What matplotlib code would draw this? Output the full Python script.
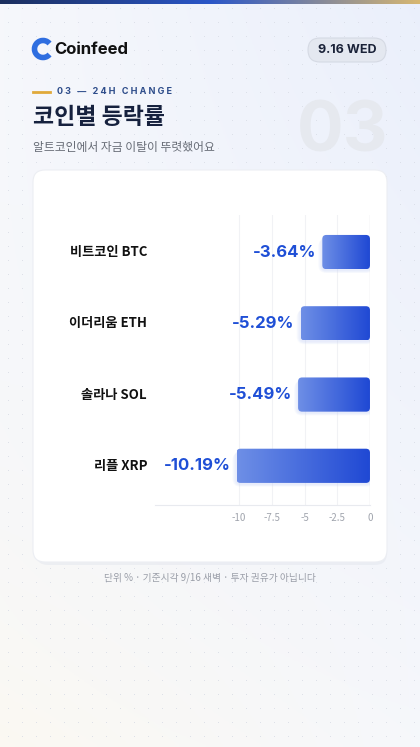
import numpy as np
import matplotlib
matplotlib.use("Agg")
import matplotlib.pyplot as plt
from matplotlib.patches import FancyBboxPatch, Arc
from matplotlib.colors import LinearSegmentedColormap

plt.rcParams['font.family'] = ['Noto Sans CJK KR', 'DejaVu Sans']

coins = ["비트코인 BTC", "이더리움 ETH", "솔라나 SOL", "리플 XRP"]
changes = [-3.64, -5.29, -5.49, -10.19]
ticks = [-10, -7.5, -5, -2.5, 0]
tick_labels = ["-10", "-7.5", "-5", "-2.5", "0"]

W, H = 420, 747
fig = plt.figure(figsize=(W/100, H/100), dpi=100)

def fx(px): return px / W
def fy(py): return 1 - py / H

bg = fig.add_axes([0, 0, 1, 1]); bg.set_axis_off()
bg.set_xlim(0, W); bg.set_ylim(H, 0)
g = np.linspace(0, 1, 200)
img = np.ones((200, 200, 3))
yy, xx = np.meshgrid(g, g, indexing='ij')
base = np.array([0.965, 0.97, 0.985])
img[:] = base
img += (xx * (1 - yy))[..., None] * (np.array([0.92, 0.94, 0.985]) - base)
img += (yy ** 3 * (1 - xx))[..., None] * (np.array([0.985, 0.975, 0.95]) - base)
bg.imshow(img, extent=[0, W, H, 0], aspect='auto', zorder=0)
dx, dy = np.meshgrid(np.arange(8, W, 14), np.arange(8, H, 14))
bg.scatter(dx.ravel(), dy.ravel(), s=0.4, c='#d9dde6', zorder=1, linewidths=0)
cm = LinearSegmentedColormap.from_list('t', ['#1c2f5e', '#2a56c8', '#d7b771'])
bg.imshow(np.linspace(0, 1, 256)[None, :], cmap=cm, extent=[0, W, 4, 0], aspect='auto', zorder=2)

bg.add_patch(Arc((43, 49), 17, 17, theta1=40, theta2=320, lw=4, color='#2f6ee0', zorder=3))
bg.text(54, 49, "Coinfeed", fontsize=12, fontweight='bold', color='#111', va='center', ha='left',
        family=['Inter', 'DejaVu Sans'], zorder=3)
bg.add_patch(FancyBboxPatch((308, 38), 78, 24, boxstyle="round,pad=0,rounding_size=12",
                            fc='#e4e8f0', ec='#d5dae4', lw=0.8, zorder=3))
bg.text(347, 50, "9.16 WED", fontsize=9, fontweight='bold', color='#1a2238', ha='center', va='center',
        family=['Inter', 'DejaVu Sans'], zorder=4)
bg.plot([33, 50], [92, 92], color='#e0a93a', lw=2, zorder=3)
bg.text(57, 92, "0 3   —   2 4 H   C H A N G E", fontsize=6.5, fontweight='bold', color='#2d4c8a', va='center',
        family=['Inter', 'DejaVu Sans'], zorder=3)
bg.text(33, 117, "코인별 등락률", fontsize=16.5, fontweight='bold', color='#16213e', va='center', zorder=3)
bg.text(33, 147, "알트코인에서 자금 이탈이 뚜렷했어요", fontsize=8.5, color='#666b75', va='center', zorder=3)
bg.text(343, 133, "03", fontsize=50, fontweight='bold', color='#e6e9ef', ha='center', va='center',
        family=['Inter', 'DejaVu Sans'], zorder=2)

bg.add_patch(FancyBboxPatch((36, 173), 351, 392, boxstyle="round,pad=0,rounding_size=12",
                            fc='#e3e6ee', ec='none', alpha=0.5, zorder=3))
bg.add_patch(FancyBboxPatch((33, 170), 354, 392, boxstyle="round,pad=0,rounding_size=12",
                            fc='white', ec='#eceef3', lw=0.8, zorder=4))
bg.text(210, 578, "단위 % · 기준시각 9/16 새벽 · 투자 권유가 아닙니다", fontsize=7, color='#9a9ea8',
        ha='center', va='center', zorder=4)

ax = fig.add_axes([fx(155), fy(505), fx(370) - fx(155), fy(215) - fy(505)])
ax.patch.set_alpha(0)
xmin, xmax = -(370 - 155) / 13.1, 0
ax.set_xlim(xmin, xmax)
ax.set_ylim(3.55, -0.52)
for s in ['top', 'right', 'left']:
    ax.spines[s].set_visible(False)
ax.spines['bottom'].set_color('#e8eaef')
ax.set_xticks(ticks); ax.set_xticklabels(tick_labels)
ax.tick_params(axis='x', length=0, labelsize=7, colors='#a0a4ad', pad=6)
ax.set_yticks([])
for t in ticks[:-1]:
    ax.axvline(t, color='#f1f2f5', lw=0.8, zorder=0)
ax.axvline(0, color='#9aa0aa', lw=0.8, zorder=3)

ypos = np.arange(len(coins))
bars = ax.barh(ypos, changes, height=0.48, color='none')
xpp = (xmax - xmin) / 215
ypp = (3.55 + 0.52) / 290
gcm = LinearSegmentedColormap.from_list('b', ['#6e8fe6', '#1f48d4'])
for b, v, name in zip(bars, changes, coins):
    x0, y0, w, h = b.get_x(), b.get_y(), b.get_width(), b.get_height()
    l, r = min(x0, x0 + w), max(x0, x0 + w)
    for k in range(1, 5):
        sh = FancyBboxPatch((l - k * xpp, y0 + (1 + k * 0.7) * ypp), r - l + 2 * k * xpp, h,
                            boxstyle=f"round,pad=0,rounding_size={(4+k)*xpp}",
                            mutation_aspect=ypp / xpp, fc='#c9d5f7', ec='none', alpha=0.12, zorder=1)
        ax.add_patch(sh)
    p = FancyBboxPatch((l, y0), r - l, h, boxstyle=f"round,pad=0,rounding_size={4*xpp}",
                       mutation_aspect=ypp / xpp, fc='none', ec='none', zorder=2)
    ax.add_patch(p)
    im = ax.imshow(np.linspace(0, 1, 256)[None, :], cmap=gcm, extent=[l, r, y0 + h, y0],
                   aspect='auto', zorder=2)
    im.set_clip_path(p)
    ax.text(l - 6 * xpp, y0 + h / 2, f"{v:.2f}%", ha='right', va='center', fontsize=12,
            fontweight='bold', color='#1f4fd6', family=['Inter', 'DejaVu Sans'], zorder=4)
    ax.text(xmin - 8 * xpp, y0 + h / 2, name, ha='right', va='center', fontsize=9.5,
            fontweight='bold', color='#111', clip_on=False, zorder=4)

fig.savefig("out.png", dpi=100)
